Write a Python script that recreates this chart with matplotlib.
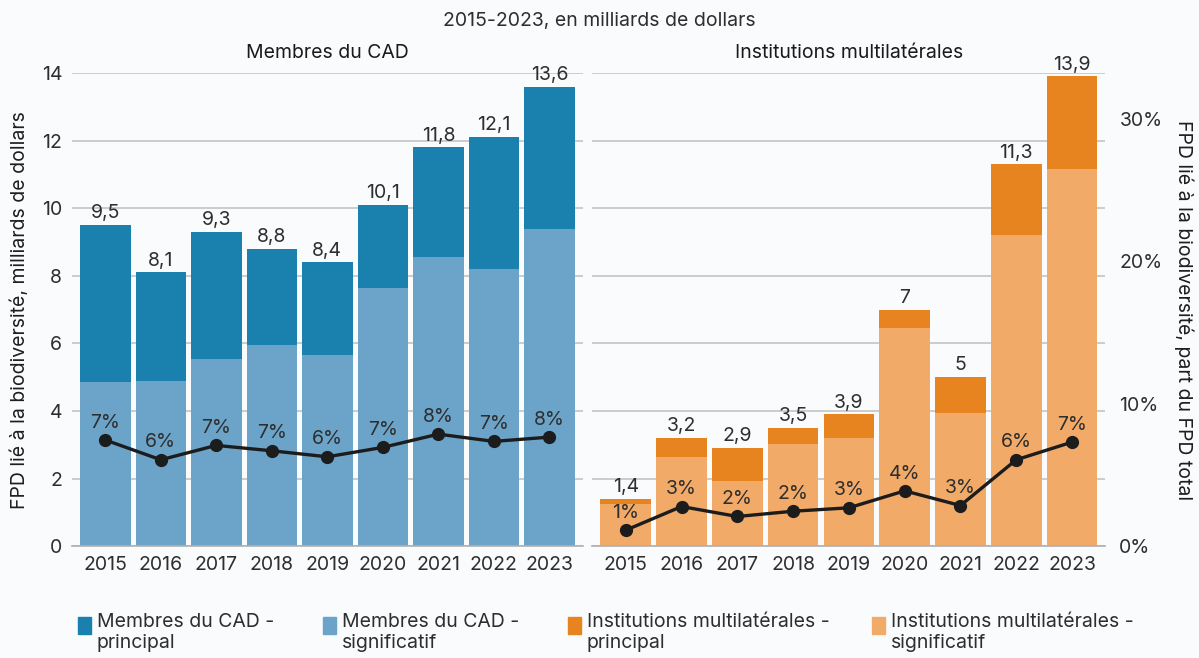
import matplotlib
matplotlib.use("Agg")
import matplotlib.pyplot as plt
import numpy as np

plt.rcParams['font.family'] = ['Inter', 'DejaVu Sans']

years = ['2015', '2016', '2017', '2018', '2019', '2020', '2021', '2022', '2023']

# Membres du CAD (milliards USD)
cad_sig = [4.86, 4.90, 5.55, 5.95, 5.65, 7.65, 8.56, 8.21, 9.39]
cad_pri = [4.64, 3.20, 3.75, 2.85, 2.75, 2.45, 3.24, 3.89, 4.21]
cad_pct = [7.45, 6.06, 7.07, 6.69, 6.27, 6.93, 7.86, 7.35, 7.65]

# Institutions multilatérales (milliards USD)
mult_sig = [1.26, 2.63, 1.93, 3.02, 3.19, 6.46, 3.93, 9.22, 11.16]
mult_pri = [0.14, 0.57, 0.97, 0.48, 0.71, 0.54, 1.07, 2.08, 2.74]
mult_pct = [1.12, 2.78, 2.08, 2.45, 2.69, 3.88, 2.85, 6.06, 7.30]

labels = ['Membres du CAD -\nprincipal', 'Membres du CAD -\nsignificatif',
          'Institutions multilatérales -\nprincipal',
          'Institutions multilatérales -\nsignificatif']

BG = '#fafbfd'
TXT = '#2e2e2e'
FS = 14
c_cad_pri, c_cad_sig = '#1a80ae', '#6ba4c8'
c_mult_pri, c_mult_sig = '#e8841f', '#f1aa68'

fig = plt.figure(figsize=(11.99, 6.58), dpi=100, facecolor=BG)
axL = fig.add_axes([0.060, 0.170, 0.426, 0.719])
axR = fig.add_axes([0.494, 0.170, 0.428, 0.719])

PCT_MAX = 33.2


def panel(ax, sig, pri, pct, c_pri, c_sig, title, show_right):
    x = np.arange(len(years))
    ax.set_facecolor(BG)
    ax.bar(x, sig, width=0.91, color=c_sig, zorder=2)
    ax.bar(x, pri, bottom=sig, width=0.91, color=c_pri, zorder=2)
    for xi, s, p in zip(x, sig, pri):
        tot = round(s + p, 1)
        ax.annotate(f"{tot:g}".replace('.', ','), (xi, s + p), xytext=(0, 2),
                    textcoords='offset points', ha='center', va='bottom',
                    fontsize=FS, color=TXT)
    ax.set_xlim(-0.6, 8.6)
    ax.set_ylim(0, 14)
    ax.set_yticks(range(0, 15, 2))
    ax.set_xticks(x, years)
    ax.grid(axis='y', color='#c4c4c4', lw=1.2, zorder=0)
    ax.set_axisbelow(True)
    for s in ['top', 'right', 'left']:
        ax.spines[s].set_visible(False)
    ax.spines['bottom'].set_color('#b0b0b0')
    ax.spines['bottom'].set_linewidth(1.2)
    ax.tick_params(axis='both', length=0, labelsize=FS, colors=TXT, pad=7)
    ax.set_title(title, fontsize=FS, color='#1a1a1a', pad=11, fontweight='normal')

    tw = ax.twinx()
    tw.plot(x, pct, color='#1c1c1c', lw=2.4, marker='o', ms=8.5, zorder=5)
    for xi, v in zip(x, pct):
        tw.annotate(f"{round(v)}%", (xi, v), xytext=(0, 6),
                    textcoords='offset points', ha='center', va='bottom',
                    fontsize=FS, color=TXT)
    tw.set_ylim(0, PCT_MAX)
    for s in tw.spines.values():
        s.set_visible(False)
    if show_right:
        tw.set_yticks([0, 10, 20, 30], ['0%', '10%', '20%', '30%'])
        tw.tick_params(axis='y', length=0, labelsize=FS, colors=TXT, pad=10)
        tw.set_ylabel('FPD lié à la biodiversité, part du FPD total',
                      rotation=-90, va='bottom', fontsize=FS, color='#1e1e1e',
                      labelpad=8)
    else:
        tw.set_yticks([])
    return tw


panel(axL, cad_sig, cad_pri, cad_pct, c_cad_pri, c_cad_sig, 'Membres du CAD', False)
panel(axR, mult_sig, mult_pri, mult_pct, c_mult_pri, c_mult_sig,
      'Institutions multilatérales', True)
axR.tick_params(axis='y', labelleft=False)
axL.set_ylabel('FPD lié à la biodiversité, milliards de dollars',
               fontsize=FS, color='#1e1e1e', labelpad=9)

fig.text(0.5, 0.968, '2015-2023, en milliards de dollars', ha='center',
         va='center', fontsize=FS, color=TXT)

# legend drawn by hand so the swatch sits next to the first line of text
leg_colors = [c_cad_pri, c_cad_sig, c_mult_pri, c_mult_sig]
leg_x = [78, 323, 568, 872]
W, H = 1199, 658
for lx, c, lab in zip(leg_x, leg_colors, labels):
    fig.patches.append(plt.Rectangle((lx / W, 1 - 634 / H), 13 / W, 17 / H,
                                     color=c, transform=fig.transFigure,
                                     figure=fig))
    fig.text((lx + 19) / W, 1 - 613 / H, lab, ha='left', va='top',
             fontsize=FS, color=TXT, linespacing=1.25)

fig.savefig('out.png', dpi=100, facecolor=BG)
